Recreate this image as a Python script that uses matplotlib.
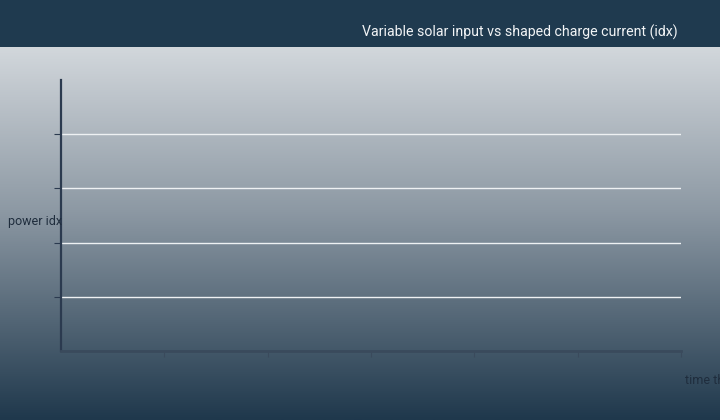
import numpy as np
import matplotlib.pyplot as plt
from matplotlib.patches import Rectangle
from matplotlib.colors import LinearSegmentedColormap

plt.rcParams['font.family'] = ['Roboto', 'DejaVu Sans']

# chart content (the reference shows no plotted series)
title = 'Variable solar input vs shaped charge current (idx)'
x_label = 'time th'
y_label = 'power idx'
x_ticks = [1, 2, 3, 4, 5, 6]
y_ticks = [1, 2, 3, 4]
solar_x = []
solar_y = []
charge_x = []
charge_y = []

fig = plt.figure(figsize=(7.2, 4.2), dpi=100)

# background gradient
bg = fig.add_axes([0, 0, 1, 1], zorder=-2)
grad = np.linspace(0, 1, 256).reshape(-1, 1)
cmap = LinearSegmentedColormap.from_list('bg', ['#e6e9ec', '#8d99a4', '#1f384c'])
bg.imshow(grad, aspect='auto', cmap=cmap, extent=[0, 1, 0, 1], origin='upper')
bg.set_xlim(0, 1)
bg.set_ylim(0, 1)
bg.axis('off')

# header band
fig.patches.append(Rectangle((0, 373 / 420), 1, 47 / 420, transform=fig.transFigure,
                             facecolor='#1f3a4f', edgecolor='none', zorder=-1))
fig.text(678 / 720, 1 - 32 / 420, title, ha='right', va='center',
         color='#f2f4f6', fontsize=10.2)

ax = fig.add_axes([61 / 720, 69 / 420, 620 / 720, 271 / 420])
ax.patch.set_alpha(0)
ax.plot(solar_x, solar_y)
ax.plot(charge_x, charge_y)
ax.set_xlim(0, 6)
ax.set_ylim(0, 5)
ax.set_xticks(x_ticks)
ax.set_yticks(y_ticks)
ax.set_xticklabels([])
ax.set_yticklabels([])
ax.tick_params(axis='x', length=4, width=0.8, color='#3a4a5c', direction='out')
ax.tick_params(axis='y', length=5, width=0.8, color='#2b3a4f', direction='out')
ax.grid(axis='y', color='#eef1f3', linewidth=1)
ax.set_axisbelow(True)
for s in ['top', 'right']:
    ax.spines[s].set_visible(False)
ax.spines['left'].set_color('#2b3a4f')
ax.spines['left'].set_linewidth(1.6)
ax.spines['bottom'].set_color('#3a4a5c')
ax.spines['bottom'].set_linewidth(2)

fig.text(62 / 720, 1 - 222 / 420, y_label, ha='right', va='center',
         color='#1f2d3d', fontsize=9)
fig.text(685 / 720, 1 - 380 / 420, x_label, ha='left', va='center',
         color='#1f2d3d', fontsize=9)

fig.savefig('out.png', dpi=100)
